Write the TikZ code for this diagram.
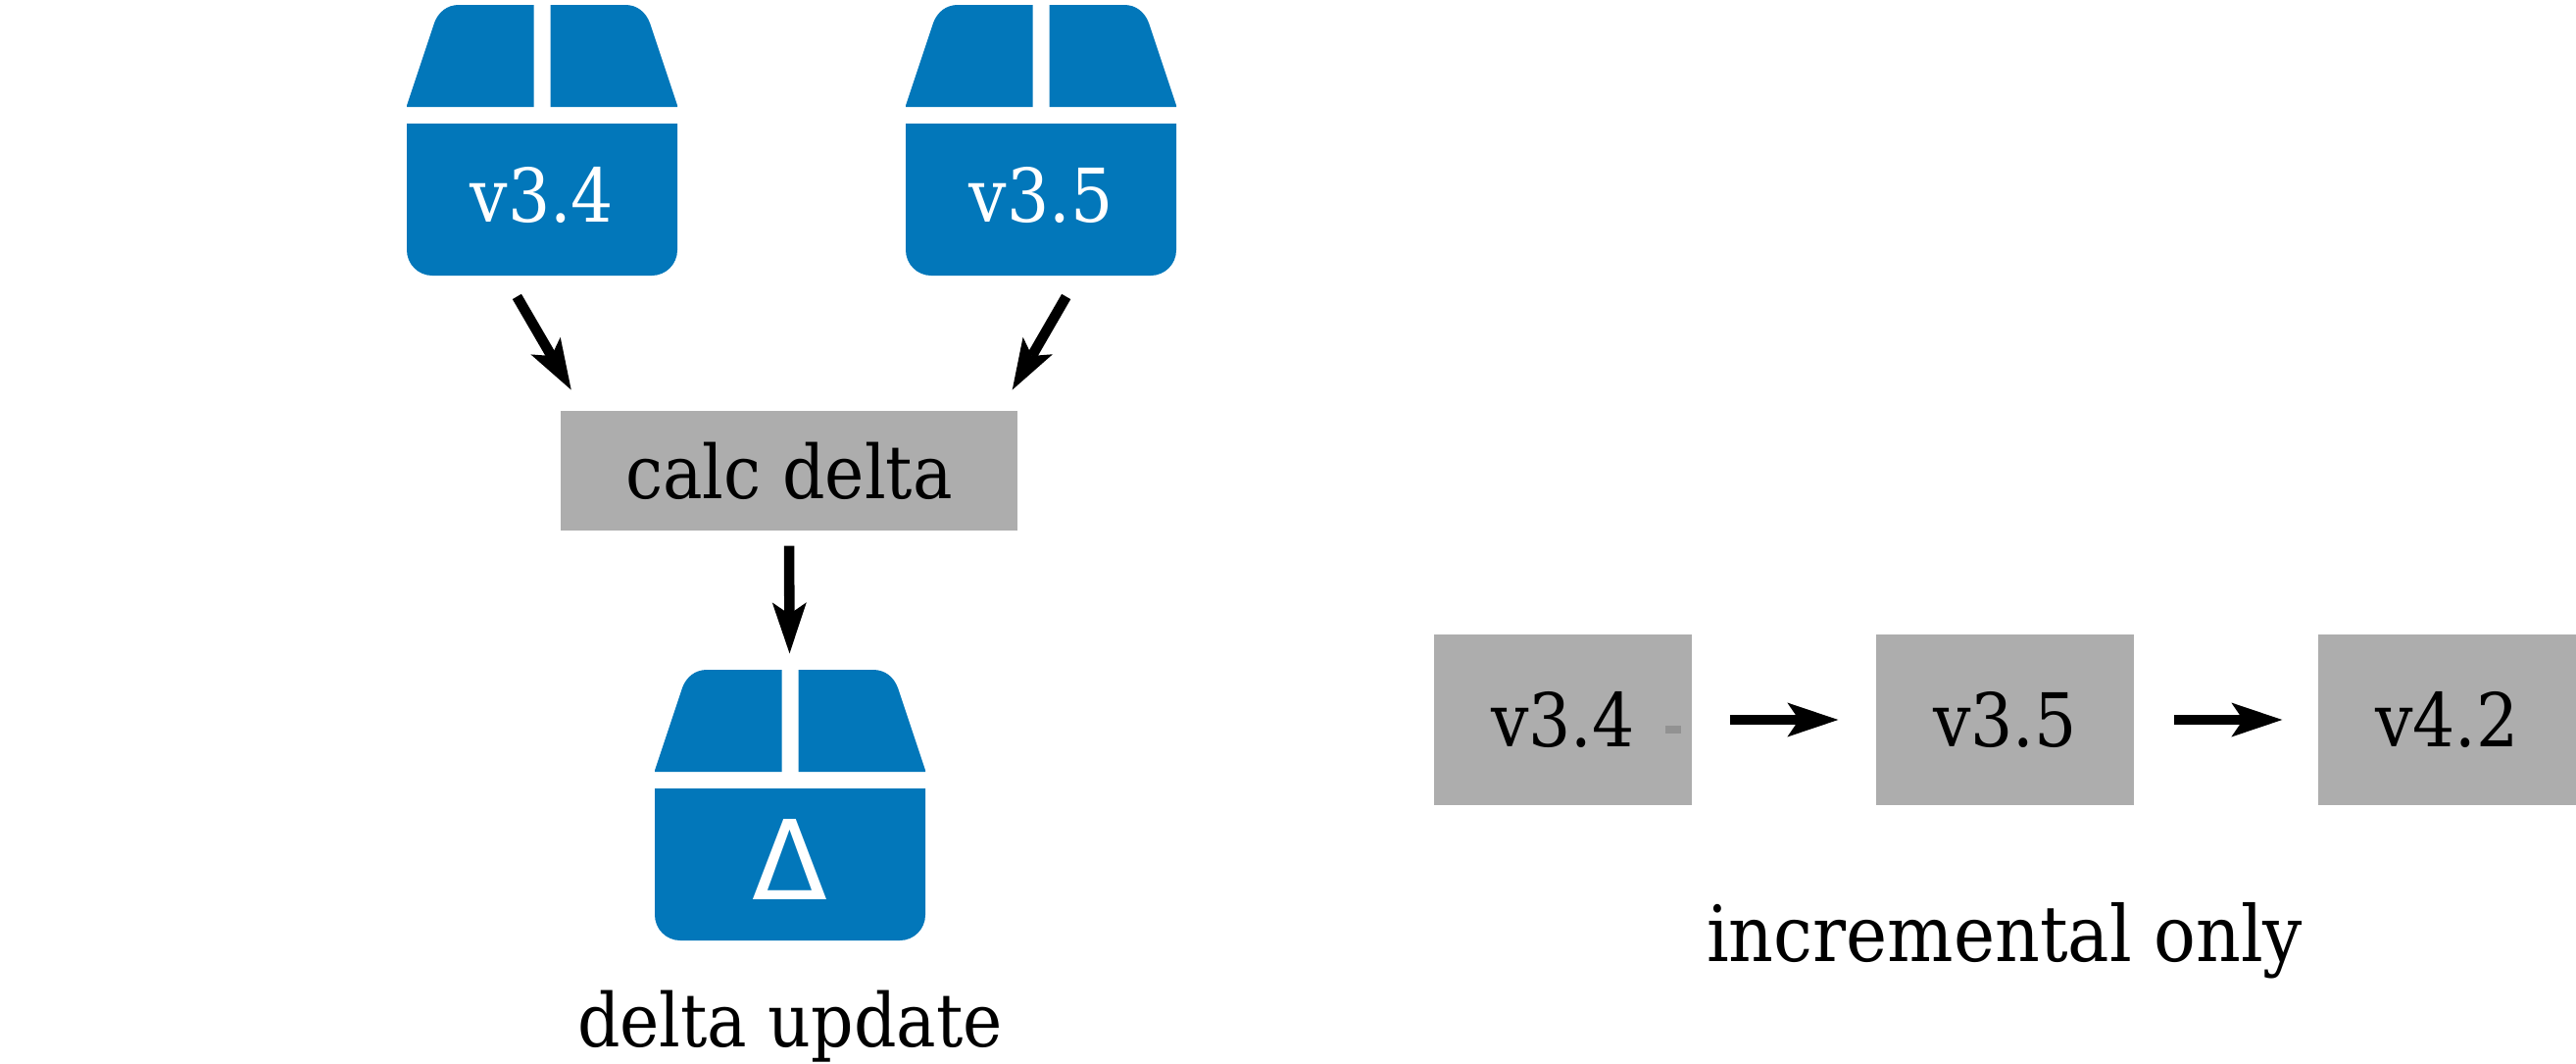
\documentclass[tikz,border=0pt]{standalone}
\usepackage{fontspec}
\usepackage{xcolor}
\usetikzlibrary{arrows.meta}
\setmainfont{DejaVu Serif Condensed}
\newfontfamily\deltafont{DejaVu Sans}
\definecolor{pkgblue}{HTML}{0277BA}
\definecolor{boxgray}{HTML}{ADADAD}
\definecolor{markgray}{HTML}{929292}

\begin{document}
\begin{tikzpicture}[
        label/.style={font=\fontsize{21.5}{26}\selectfont, inner sep=0pt},
        stepbox/.style={rectangle, fill=boxgray, minimum width=2.63cm, minimum height=1.74cm, inner sep=0pt, font=\fontsize{21.5}{26}\selectfont},
        body/.style={rectangle, minimum width=2.76cm, minimum height=1.55cm, inner sep=0pt, text=white, text depth=.1cm, font=\fontsize{21.5}{26}\selectfont},
        thick arrow/.style={-{Stealth[length=5.2mm, width=3.5mm, inset=1.2mm, line width=0pt]}, line width=3pt},
        package/.pic={
            \fill[pkgblue] (-1.38,.775) -- (-1.38,-.515) arc[start angle=180, end angle=270, radius=.26] -- (1.12,-.775) arc[start angle=270, end angle=360, radius=.26] -- (1.38,.775) -- cycle;
            \foreach \side in {1,-1}
                \fill[pkgblue, xscale=\side] (.085,.945) -- (.085,1.985) -- (.85,1.985) .. controls (.97,1.985) and (1.06,1.91) .. (1.10,1.80) -- (1.38,.96) -- (1.38,.945) -- cycle;
            \node[body] (body) at (0,0) {#1};
        },
    ]
    \useasboundingbox (0,0) rectangle (26.28,10.84);

    % Packages
    \pic (old) at (5.53,8.805) {package=v3.4};
    \pic (new) at (10.62,8.805) {package=v3.5};
    \pic (delta) at (8.06,2.025) {package={\deltafont\fontsize{32}{36}\selectfont Δ}};

    % Delta side
    \node[stepbox, minimum width=4.66cm, minimum height=1.22cm] (calc) at (8.05,6.04) {calc delta};
    \node[label] (deltacaption) at (8.06,0.37) {delta update};

    % Incremental side
    \node[stepbox] (first) at (15.945,3.50) {v3.4};
    \node[stepbox] (second) at (20.455,3.50) {v3.5};
    \node[stepbox] (third) at (24.965,3.50) {v4.2};
    \node[rectangle, fill=markgray, minimum width=.16cm, minimum height=.08cm, inner sep=0pt] (mark) at (17.07,3.405) {};
    \node[label, font=\fontsize{22.5}{27}\selectfont] (inccaption) at (20.45,1.25) {incremental only};

    % Arrows
    \draw[thick arrow, shorten <=.24cm, shorten >=.24cm] ([xshift=1.01cm]oldbody.south west) -- ([xshift=.235cm]calc.north west);
    \draw[thick arrow, shorten <=.24cm, shorten >=.24cm] ([xshift=-1.01cm]newbody.south east) -- ([xshift=-.18cm]calc.north east);
    \draw[thick arrow, shorten <=.15cm, shorten >=1.37cm] (calc.south) -- (deltabody.north);
    \draw[thick arrow, shorten <=.38cm, shorten >=.38cm] (first) -- (second);
    \draw[thick arrow, shorten <=.40cm, shorten >=.36cm] (second) -- (third);
\end{tikzpicture}
\end{document}
